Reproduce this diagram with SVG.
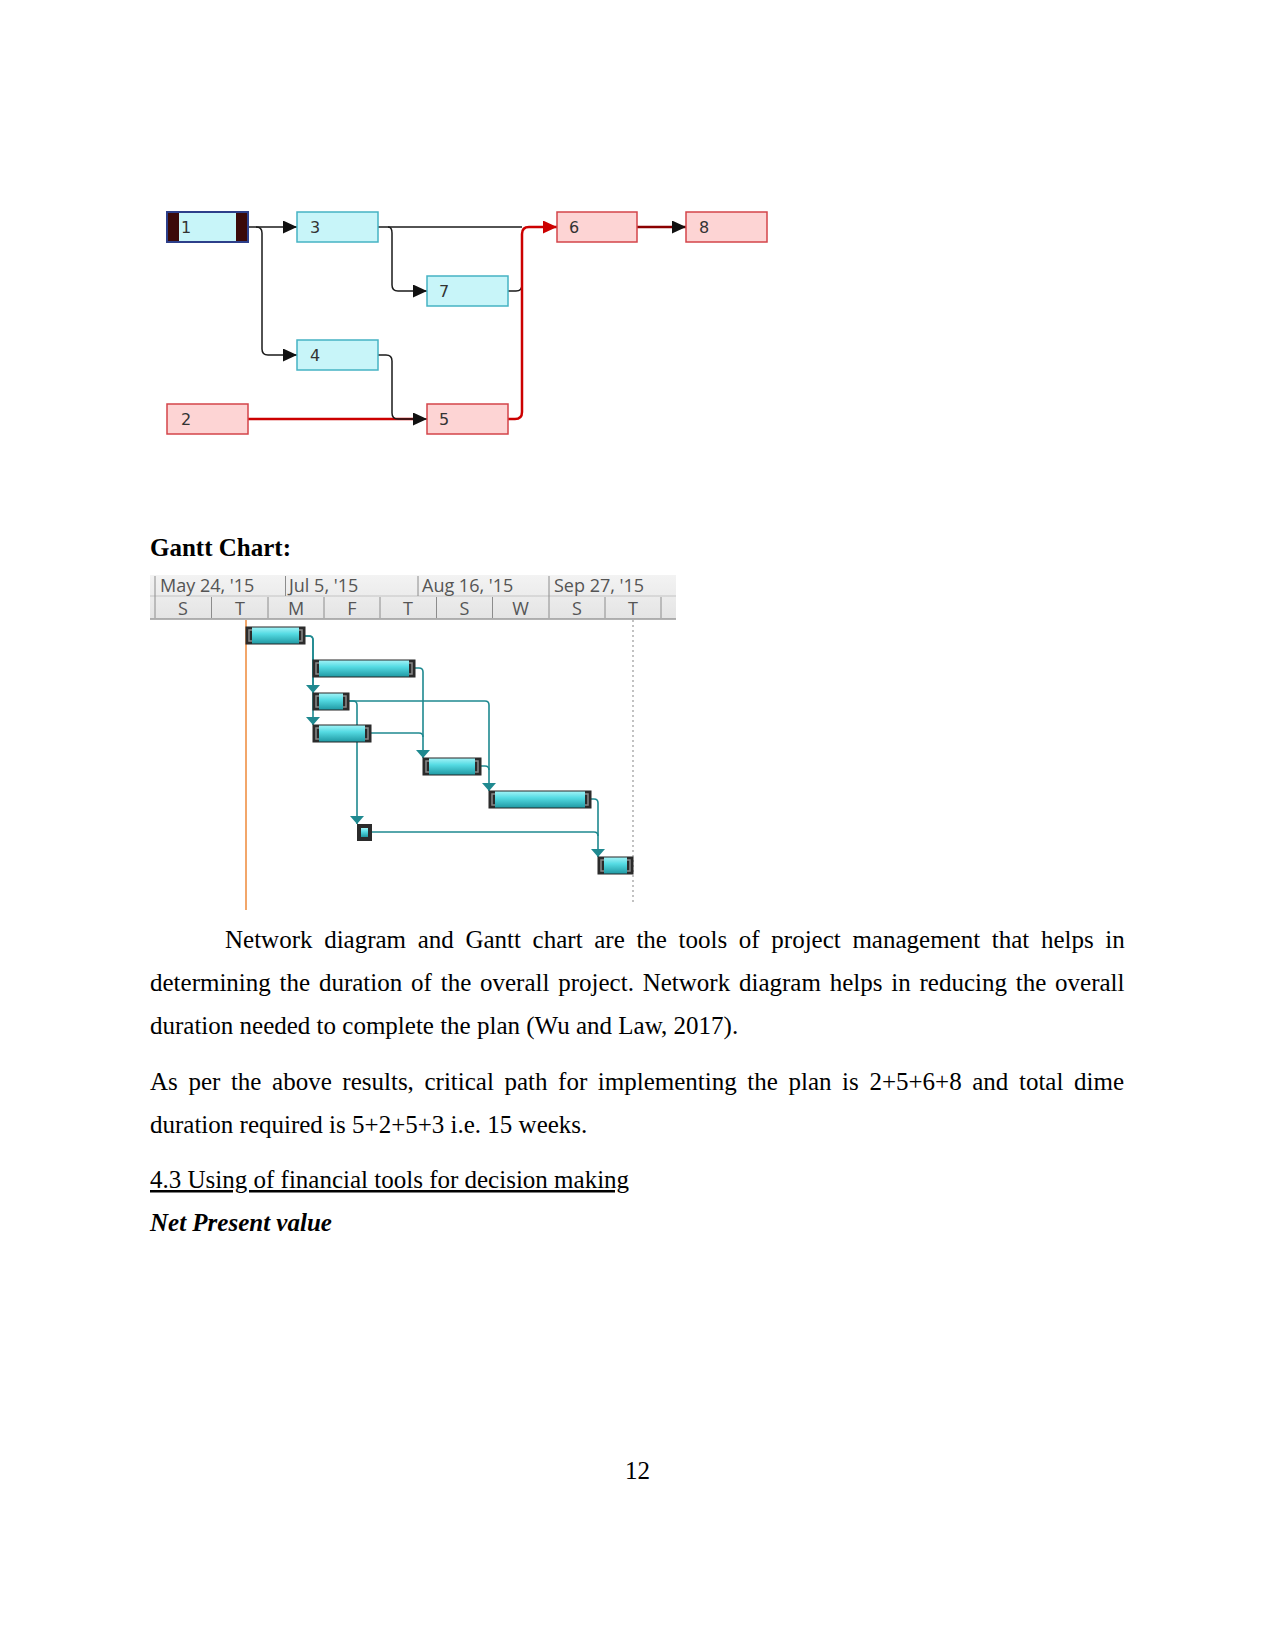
<svg xmlns="http://www.w3.org/2000/svg" width="1275" height="1650" viewBox="0 0 1275 1650">
<defs>
<style>
.bc{fill:#c8f5f9;stroke:#46b3c3;stroke-width:1.5}
.br{fill:#fdd4d4;stroke:#d3444a;stroke-width:1.5}
.lbl{font-family:"DejaVu Sans",Verdana,sans-serif;font-size:16px;fill:#333}
.ln{fill:none;stroke:#1a1a1a;stroke-width:1.5}
.crit{fill:none;stroke:#cc0000;stroke-width:2.5}
.gl{fill:none;stroke:#1f8990;stroke-width:1.6}
.bar{fill:url(#bg);stroke:#262626;stroke-width:1}
.cap{fill:#2b2b2b}
.brk{fill:none;stroke:#8a8a8a;stroke-width:1.5}
.hd{font-family:"Open Sans","DejaVu Sans",sans-serif;font-size:18px;fill:#555}
.sep{stroke:#8c8c8c;stroke-width:1}
.tx{font-family:"Liberation Serif","Times New Roman",serif;font-size:25px;fill:#000}
</style>
<linearGradient id="bg" x1="0" y1="0" x2="0" y2="1">
<stop offset="0" stop-color="#a4f4f8"/>
<stop offset="0.4" stop-color="#55dbe3"/>
<stop offset="1" stop-color="#1f98a2"/>
</linearGradient>
<linearGradient id="hg" x1="0" y1="0" x2="0" y2="1">
<stop offset="0" stop-color="#f3f3f3"/>
<stop offset="1" stop-color="#e4e4e4"/>
</linearGradient>
<marker id="ab" markerUnits="userSpaceOnUse" markerWidth="14" markerHeight="13" refX="14" refY="6.5" orient="auto"><path d="M0,0 L14,6.5 L0,13 z" fill="#111"/></marker>
<marker id="ar" markerUnits="userSpaceOnUse" markerWidth="14" markerHeight="13" refX="14" refY="6.5" orient="auto"><path d="M0,0 L14,6.5 L0,13 z" fill="#cc0000"/></marker>
<marker id="at" markerUnits="userSpaceOnUse" markerWidth="8" markerHeight="14" refX="8" refY="7" orient="auto"><path d="M0,0 L8,7 L0,14 z" fill="#1f8990"/></marker>
</defs>
<rect width="1275" height="1650" fill="#fff"/>

<!-- Network diagram connectors -->
<g id="connectors">
<path class="ln" d="M248,227 H297" marker-end="url(#ab)"/>
<path class="ln" d="M256,227 Q262,227 262,233 V349 Q262,355 268,355 H297" marker-end="url(#ab)"/>
<path class="ln" d="M378,227 H522"/>
<path class="ln" d="M388,227 Q392,227 392,233 V285 Q392,291 398,291 H427" marker-end="url(#ab)"/>
<path class="ln" d="M508,291 H516 Q522,291 522,285"/>
<path class="crit" d="M248,419 H418"/>
<path class="crit" d="M508,419 H515 Q522,419 522,412 V234 Q522,227 529,227 H557" marker-end="url(#ar)"/>
<path class="ln" d="M378,355 H386 Q392,355 392,361 V413 Q392,419 398,419 H427" marker-end="url(#ab)"/>
<path d="M637,227 H686" fill="none" stroke="#8b0000" stroke-width="2.5" marker-end="url(#ab)"/>
</g>

<!-- Network nodes -->
<g id="n1">
<rect x="167" y="212" width="81" height="30" fill="#c8f5f9"/>
<rect x="167" y="212" width="12" height="30" fill="#3b0a0a"/>
<rect x="236" y="212" width="12" height="30" fill="#3b0a0a"/>
<rect x="167" y="212" width="81" height="30" fill="none" stroke="#2d3f8a" stroke-width="2"/>
<text class="lbl" x="181" y="233">1</text>
</g>
<g id="n3"><rect class="bc" x="297" y="212" width="81" height="30"/><text class="lbl" x="310" y="233">3</text></g>
<g id="n7"><rect class="bc" x="427" y="276" width="81" height="30"/><text class="lbl" x="439" y="297">7</text></g>
<g id="n4"><rect class="bc" x="297" y="340" width="81" height="30"/><text class="lbl" x="310" y="361">4</text></g>
<g id="n2"><rect class="br" x="167" y="404" width="81" height="30"/><text class="lbl" x="181" y="425">2</text></g>
<g id="n5"><rect class="br" x="427" y="404" width="81" height="30"/><text class="lbl" x="439" y="425">5</text></g>
<g id="n6"><rect class="br" x="557" y="212" width="80" height="30"/><text class="lbl" x="569" y="233">6</text></g>
<g id="n8"><rect class="br" x="686" y="212" width="81" height="30"/><text class="lbl" x="699" y="233">8</text></g>

<text class="tx" x="150" y="556" font-weight="bold">Gantt Chart:</text>

<!-- Gantt header -->
<g id="gantt-header">
<rect x="150" y="575" width="526" height="44" fill="url(#hg)"/>
<line x1="150" y1="596" x2="676" y2="596" stroke="#c4c4c4" stroke-width="1"/>
<line x1="150" y1="619" x2="676" y2="619" stroke="#9a9a9a" stroke-width="1.5"/>
<line class="sep" x1="155" y1="576" x2="155" y2="618"/>
<line class="sep" x1="285.5" y1="576" x2="285.5" y2="596"/>
<line class="sep" x1="418" y1="576" x2="418" y2="596"/>
<line class="sep" x1="549" y1="576" x2="549" y2="618"/>
<line class="sep" x1="211.5" y1="597" x2="211.5" y2="618"/>
<line class="sep" x1="268" y1="597" x2="268" y2="618"/>
<line class="sep" x1="324" y1="597" x2="324" y2="618"/>
<line class="sep" x1="380" y1="597" x2="380" y2="618"/>
<line class="sep" x1="436.5" y1="597" x2="436.5" y2="618"/>
<line class="sep" x1="492.5" y1="597" x2="492.5" y2="618"/>
<line class="sep" x1="605" y1="597" x2="605" y2="618"/>
<line class="sep" x1="661" y1="597" x2="661" y2="618"/>
<text class="hd" x="160" y="592">May 24, '15</text>
<text class="hd" x="289" y="592">Jul 5, '15</text>
<text class="hd" x="422" y="592">Aug 16, '15</text>
<text class="hd" x="554" y="592">Sep 27, '15</text>
<g text-anchor="middle">
<text class="hd" x="183" y="615">S</text>
<text class="hd" x="240" y="615">T</text>
<text class="hd" x="296" y="615">M</text>
<text class="hd" x="352" y="615">F</text>
<text class="hd" x="408" y="615">T</text>
<text class="hd" x="464.5" y="615">S</text>
<text class="hd" x="520.5" y="615">W</text>
<text class="hd" x="577" y="615">S</text>
<text class="hd" x="633" y="615">T</text>
</g>
</g>

<line x1="246" y1="620" x2="246" y2="910" stroke="#f2a66a" stroke-width="2"/>
<line x1="633" y1="620" x2="633" y2="905" stroke="#999" stroke-width="1.2" stroke-dasharray="2,3"/>

<!-- Gantt connectors -->
<g id="gantt-links">
<path class="gl" d="M305,636 H309 Q313,636 313,640 V693" marker-end="url(#at)"/>
<path class="gl" d="M305,636 H309 Q313,636 313,640 V725" marker-end="url(#at)"/>
<path class="gl" d="M415,668 H419 Q423,668 423,672 V758" marker-end="url(#at)"/>
<path class="gl" d="M349,701 H485 Q489,701 489,705 V791" marker-end="url(#at)"/>
<path class="gl" d="M349,701 H353 Q357,701 357,705 V824" marker-end="url(#at)"/>
<path class="gl" d="M371,733 H419 Q423,733 423,737"/>
<path class="gl" d="M481,766 H485 Q489,766 489,770"/>
<path class="gl" d="M591,799 H594 Q598,799 598,803 V857" marker-end="url(#at)"/>
<path class="gl" d="M372,832 H594 Q598,832 598,836"/>
</g>

<!-- Gantt bars -->
<g id="bar1"><rect class="bar" x="246" y="627" width="59" height="17"/><rect class="cap" x="246" y="627" width="6" height="17"/><rect class="cap" x="299" y="627" width="6" height="17"/><path class="brk" d="M252,630 H249 V641 H252 M299,630 H302 V641 H299"/></g>
<g id="bar2"><rect class="bar" x="313" y="660" width="102" height="17"/><rect class="cap" x="313" y="660" width="6" height="17"/><rect class="cap" x="409" y="660" width="6" height="17"/><path class="brk" d="M319,663 H316 V674 H319 M409,663 H412 V674 H409"/></g>
<g id="bar3"><rect class="bar" x="313" y="693" width="36" height="17"/><rect class="cap" x="313" y="693" width="6" height="17"/><rect class="cap" x="343" y="693" width="6" height="17"/><path class="brk" d="M319,696 H316 V707 H319 M343,696 H346 V707 H343"/></g>
<g id="bar4"><rect class="bar" x="313" y="725" width="58" height="17"/><rect class="cap" x="313" y="725" width="6" height="17"/><rect class="cap" x="365" y="725" width="6" height="17"/><path class="brk" d="M319,728 H316 V739 H319 M365,728 H368 V739 H365"/></g>
<g id="bar5"><rect class="bar" x="423" y="758" width="58" height="17"/><rect class="cap" x="423" y="758" width="6" height="17"/><rect class="cap" x="475" y="758" width="6" height="17"/><path class="brk" d="M429,761 H426 V772 H429 M475,761 H478 V772 H475"/></g>
<g id="bar6"><rect class="bar" x="489" y="791" width="102" height="17"/><rect class="cap" x="489" y="791" width="6" height="17"/><rect class="cap" x="585" y="791" width="6" height="17"/><path class="brk" d="M495,794 H492 V805 H495 M585,794 H588 V805 H585"/></g>
<g id="bar7"><rect x="357" y="824" width="15" height="17" fill="#2b2b2b"/><rect x="361" y="828" width="7" height="9" fill="url(#bg)"/></g>
<g id="bar8"><rect class="bar" x="598" y="857" width="35" height="17"/><rect class="cap" x="598" y="857" width="6" height="17"/><rect class="cap" x="627" y="857" width="6" height="17"/><path class="brk" d="M604,860 H601 V871 H604 M627,860 H630 V871 H627"/></g>

<!-- Body text -->
<text class="tx" x="225" y="948" word-spacing="5.4">Network diagram and Gantt chart are the tools of project management that helps in</text>
<text class="tx" x="150" y="991" word-spacing="2.55">determining the duration of the overall project. Network diagram helps in reducing the overall</text>
<text class="tx" x="150" y="1034">duration needed to complete the plan (Wu and Law, 2017).</text>
<text class="tx" x="150" y="1090" word-spacing="4.35">As per the above results, critical path for implementing the plan is 2+5+6+8 and total dime</text>
<text class="tx" x="150" y="1133">duration required is 5+2+5+3 i.e. 15 weeks.</text>
<text class="tx" x="150" y="1188" text-decoration="underline">4.3 Using of financial tools for decision making</text>
<text class="tx" x="150" y="1231" font-weight="bold" font-style="italic">Net Present value</text>
<text class="tx" x="637.5" y="1479" text-anchor="middle">12</text>
</svg>
